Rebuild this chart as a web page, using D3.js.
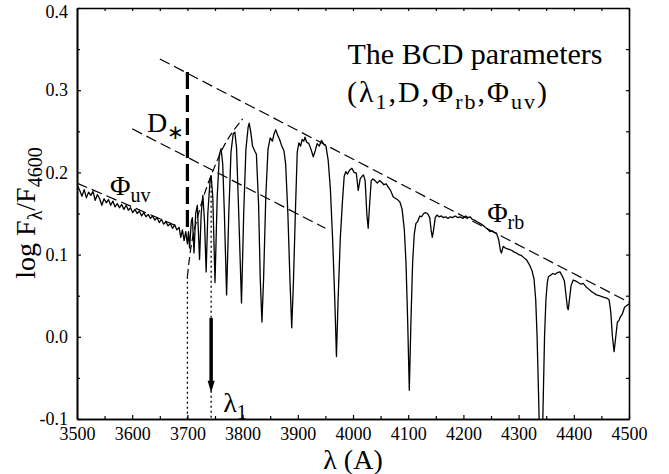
<!DOCTYPE html>
<html>
<head>
<meta charset="utf-8">
<script src="https://cdnjs.cloudflare.com/ajax/libs/d3/7.8.5/d3.min.js"></script>
<style>
  body { margin: 0; background: #fff; }
  text { font-family: "Liberation Serif", "Times New Roman", serif; fill: #000; }
</style>
</head>
<body>
<div id="chart"></div>
<script>
// spectrum: [wavelength (A), log F_lambda/F_4600]
var spectrum = [
  [3500,0.185],[3505,0.178],[3509,0.171],[3513,0.179],[3517,0.169],[3521,0.176],[3525,0.172],
  [3529,0.177],[3533,0.166],[3537,0.173],[3541,0.168],[3545,0.160],[3549,0.168],[3553,0.163],
  [3557,0.167],[3561,0.160],[3565,0.165],[3569,0.158],[3573,0.162],[3577,0.157],[3581,0.161],
  [3585,0.155],[3589,0.160],[3593,0.154],[3597,0.157],[3601,0.151],[3605,0.155],[3609,0.150],
  [3613,0.153],[3617,0.147],[3621,0.151],[3625,0.146],[3629,0.149],[3633,0.144],[3637,0.147],
  [3641,0.142],[3645,0.145],[3649,0.139],[3653,0.143],[3657,0.137],[3661,0.140],[3665,0.135],
  [3669,0.138],[3673,0.132],[3677,0.136],[3681,0.130],[3685,0.133],[3688,0.121],[3691,0.130],
  [3694,0.117],[3697,0.128],[3700,0.113],[3702,0.128],[3704,0.108],[3707,0.140],[3709,0.145],
  [3712,0.102],[3715,0.150],[3718,0.160],[3722,0.094],[3725,0.150],[3728,0.172],[3731,0.140],
  [3734,0.079],[3737,0.150],[3741,0.190],[3743,0.196],[3746,0.170],[3750,0.066],[3754,0.170],
  [3758,0.222],[3761,0.229],[3764,0.210],[3767,0.150],[3771,0.051],[3775,0.150],[3779,0.225],
  [3783,0.247],[3786,0.249],[3789,0.230],[3793,0.150],[3798,0.041],[3802,0.150],[3806,0.228],
  [3810,0.255],[3812,0.260],[3815,0.248],[3818,0.232],[3822,0.226],[3825,0.222],[3829,0.160],
  [3832,0.070],[3835,0.018],[3838,0.070],[3842,0.170],[3846,0.228],[3850,0.242],[3854,0.238],
  [3857,0.247],[3860,0.252],[3863,0.246],[3867,0.240],[3871,0.232],[3875,0.226],[3878,0.210],
  [3882,0.150],[3886,0.065],[3889,0.011],[3892,0.065],[3896,0.160],[3899,0.225],[3902,0.236],
  [3905,0.232],[3908,0.240],[3911,0.238],[3913,0.243],[3916,0.237],[3920,0.235],[3924,0.228],
  [3928,0.219],[3931,0.225],[3935,0.235],[3939,0.232],[3943,0.239],[3947,0.234],[3951,0.232],
  [3955,0.215],[3959,0.180],[3963,0.120],[3967,0.045],[3970,-0.024],[3973,0.045],[3977,0.120],
  [3981,0.166],[3984,0.195],[3987,0.201],[3990,0.198],[3994,0.203],[3998,0.205],[4002,0.200],
  [4006,0.199],[4009.5,0.178],[4013,0.192],[4016,0.195],[4019,0.197],[4022,0.190],[4025,0.150],
  [4027.5,0.132],[4030,0.160],[4033,0.190],[4036,0.192],[4040,0.190],[4044,0.187],[4048,0.190],
  [4052,0.188],[4056,0.185],[4060,0.186],[4064,0.182],[4068,0.178],[4073,0.170],[4078,0.168],
  [4082,0.166],[4085,0.164],[4089,0.155],[4093,0.130],[4096,0.090],[4099,0.020],[4102,-0.065],
  [4105,0.020],[4108,0.090],[4111,0.125],[4114,0.138],[4117,0.140],[4121,0.147],[4124,0.146],
  [4128,0.150],[4131,0.151],[4135,0.150],[4139,0.145],[4141.5,0.130],[4143.7,0.121],[4146,0.130],
  [4149,0.145],[4152,0.148],[4156,0.146],[4160,0.147],[4164,0.145],[4168,0.146],[4172,0.144],
  [4176,0.146],[4180,0.145],[4185,0.147],[4190,0.145],[4194,0.146],[4199,0.144],[4204,0.147],
  [4208,0.145],[4212,0.146],[4216,0.143],[4220,0.142],[4225,0.140],[4230,0.138],[4235,0.136],
  [4240,0.133],[4244,0.131],[4248,0.128],[4252,0.129],[4256,0.127],[4260,0.126],[4264,0.118],
  [4267,0.105],[4269,0.102],[4272,0.110],[4276,0.108],[4280,0.107],[4284,0.106],[4288,0.105],
  [4292,0.103],[4296,0.102],[4300,0.100],[4305,0.099],[4310,0.096],[4315,0.093],[4320,0.087],
  [4324,0.081],[4328,0.070],[4331,0.045],[4333.5,0.000],[4336.5,-0.080],[4339,-0.160],
  [4342,-0.160],[4344.5,-0.080],[4347,0.000],[4349.5,0.045],[4352,0.066],[4354,0.073],
  [4358,0.075],[4362,0.077],[4366,0.076],[4370,0.078],[4375,0.079],[4379,0.074],[4383,0.068],
  [4386,0.050],[4388.5,0.035],[4390,0.033],[4392,0.045],[4395,0.062],[4399,0.069],[4403,0.068],
  [4408,0.066],[4413,0.064],[4417,0.065],[4422,0.061],[4427,0.058],[4432,0.055],[4437,0.053],
  [4441,0.051],[4446,0.050],[4451,0.049],[4455,0.048],[4460,0.047],[4464,0.045],[4467,0.030],
  [4470,0.000],[4473,-0.018],[4476,0.000],[4479,0.018],[4482,0.020],[4484,0.024],[4488,0.028],
  [4492,0.036],[4496,0.038],[4500,0.040]
];

// construction lines of the BCD method
var phiRbLine = [[3650, 0.338], [4500, 0.042]];
var dStarLine = [[3600, 0.253], [3950, 0.132]];
var phiUvLine = [[3500, 0.187], [3680, 0.135]];
var jumpLine = [[3700, 0.322], [3700, 0.130]];
var jumpFoot = [[3700, 0.073], [3700, -0.1]];
var envelope = [[3700,0.073],[3705,0.105],[3712,0.130],[3722,0.155],[3735,0.183],
                [3748,0.205],[3765,0.232],[3782,0.250],[3800,0.265]];
var lambda1 = 3743;
var lambda1Top = 0.196;
var arrowFrom = 0.023, arrowTo = -0.068;

var xMajor = d3.range(3500, 4501, 100);
var xMinor = d3.range(3550, 4500, 100);
var yMajor = [-0.1, 0.0, 0.1, 0.2, 0.3, 0.4];
var yMinor = [-0.05, 0.05, 0.15, 0.25, 0.35];

var W = 669, H = 474;
var svg = d3.select("#chart").append("svg").attr("width", W).attr("height", H);

var x = d3.scaleLinear().domain([3500, 4500]).range([77, 629]);
var y = d3.scaleLinear().domain([-0.1, 0.4]).range([419, 8]);

svg.append("clipPath").attr("id", "plotClip")
  .append("rect").attr("x", 77).attr("y", 8).attr("width", 552).attr("height", 411);

var line = d3.line().x(function (d) { return x(d[0]); }).y(function (d) { return y(d[1]); });

// axes: inward ticks on all four sides
function styleAxis(g) {
  g.select(".domain").attr("stroke", "#000").attr("stroke-width", 1.6);
  g.selectAll(".tick line").attr("stroke", "#000").attr("stroke-width", 1.2);
  g.selectAll(".tick text").style("font-size", "18px").style("font-family", "Liberation Serif, serif");
}
var fmt = function (d) { return d3.format(".1f")(d).replace("\u2212", "-"); };

svg.append("g").attr("transform", "translate(0,419)")
  .call(d3.axisBottom(x).tickValues(xMajor).tickSize(-4).tickSizeOuter(0).tickPadding(8).tickFormat(d3.format("d")))
  .call(styleAxis);
svg.append("g").attr("transform", "translate(0,419)")
  .call(d3.axisBottom(x).tickValues(xMinor).tickSize(-3).tickSizeOuter(0).tickFormat(""))
  .call(styleAxis);
svg.append("g").attr("transform", "translate(0,8)")
  .call(d3.axisTop(x).tickValues(xMajor.concat(xMinor)).tickSize(-3).tickSizeOuter(0).tickFormat(""))
  .call(styleAxis);
svg.append("g").attr("transform", "translate(77,0)")
  .call(d3.axisLeft(y).tickValues(yMajor).tickSize(-4).tickSizeOuter(0).tickPadding(9).tickFormat(fmt))
  .call(styleAxis)
  // keep the top label inside the page
  .selectAll(".tick text").filter(function (d) { return d === 0.4; }).attr("dy", "0.52em");
svg.append("g").attr("transform", "translate(77,0)")
  .call(d3.axisLeft(y).tickValues(yMinor).tickSize(-3).tickSizeOuter(0).tickFormat(""))
  .call(styleAxis);
svg.append("g").attr("transform", "translate(629,0)")
  .call(d3.axisRight(y).tickValues(yMajor.concat(yMinor)).tickSize(-3).tickSizeOuter(0).tickFormat(""))
  .call(styleAxis);

// spectrum
svg.append("path").datum(spectrum)
  .attr("clip-path", "url(#plotClip)")
  .attr("d", line).attr("fill", "none").attr("stroke", "#000")
  .attr("stroke-width", 1.3).attr("stroke-linejoin", "round");

// dashed construction lines
[phiRbLine, dStarLine, phiUvLine].forEach(function (l) {
  svg.append("path").datum(l).attr("d", line).attr("fill", "none")
    .attr("stroke", "#000").attr("stroke-width", 1.2).attr("stroke-dasharray", "11,5");
});
svg.append("path").datum(envelope)
  .attr("d", line.curve(d3.curveBasis)).attr("fill", "none")
  .attr("stroke", "#000").attr("stroke-width", 1.2).attr("stroke-dasharray", "8,4");
line.curve(d3.curveLinear);

svg.append("path").datum(jumpLine).attr("d", line).attr("fill", "none")
  .attr("stroke", "#000").attr("stroke-width", 3.2).attr("stroke-dasharray", "17,6");
svg.append("path").datum(jumpFoot).attr("d", line).attr("fill", "none")
  .attr("stroke", "#000").attr("stroke-width", 1.3).attr("stroke-dasharray", "2,3");

// lambda_1 marker with arrow
svg.append("path").datum([[lambda1, lambda1Top], [lambda1, -0.1]]).attr("d", line)
  .attr("fill", "none").attr("stroke", "#000").attr("stroke-width", 1.3).attr("stroke-dasharray", "2,3");
var ax = x(lambda1), aTip = y(arrowTo);
svg.append("line").attr("x1", ax).attr("x2", ax).attr("y1", y(arrowFrom)).attr("y2", aTip - 10)
  .attr("stroke", "#000").attr("stroke-width", 3.5);
svg.append("path")
  .attr("d", "M" + (ax - 3.5) + "," + (aTip - 12) + "L" + (ax + 3.5) + "," + (aTip - 12) + "L" + ax + "," + aTip + "Z")
  .attr("fill", "#000");

// labels: parts are [text, subscript?, back-to-baseline?]
function label(xp, yp, size, parts, anchor, spacing) {
  var t = svg.append("text").attr("x", xp).attr("y", yp)
    .style("font-size", size + "px").attr("text-anchor", anchor || "start");
  if (spacing) t.style("letter-spacing", spacing + "px");
  parts.forEach(function (p) {
    var s = t.append("tspan").text(p[0]);
    if (p[1]) s.style("font-size", Math.round(size * 0.72) + "px").attr("dy", 7);
    if (p[2]) s.attr("dy", -7);
  });
  return t;
}
label(475, 64, 30, [["The BCD parameters"]], "middle");
label(347, 102, 30, [["(\u03bb"], ["1", true], [",D,\u03a6", false, true], ["rb", true], [",\u03a6", false, true], ["uv", true], [")", false, true]], "start", 2);
label(x(3627), y(0.249), 28, [["D"], ["\u2217", true]]);
label(x(3560), y(0.172), 28, [["\u03a6"], ["uv", true]]);
label(x(4243), y(0.140), 28, [["\u03a6"], ["rb", true]]);
label(x(3765), y(-0.091), 28, [["\u03bb"], ["1", true]]);

// axis titles
label(353, 469, 28, [["\u03bb (A)"]], "middle");
var yl = svg.append("text").attr("transform", "translate(35,213) rotate(-90)")
  .attr("text-anchor", "middle").style("font-size", "28px");
yl.append("tspan").text("log F");
yl.append("tspan").text("\u03bb").style("font-size", "20px").attr("dy", 7);
yl.append("tspan").text("/F").attr("dy", -7);
yl.append("tspan").text("4600").style("font-size", "20px").attr("dy", 7);
</script>
</body>
</html>
